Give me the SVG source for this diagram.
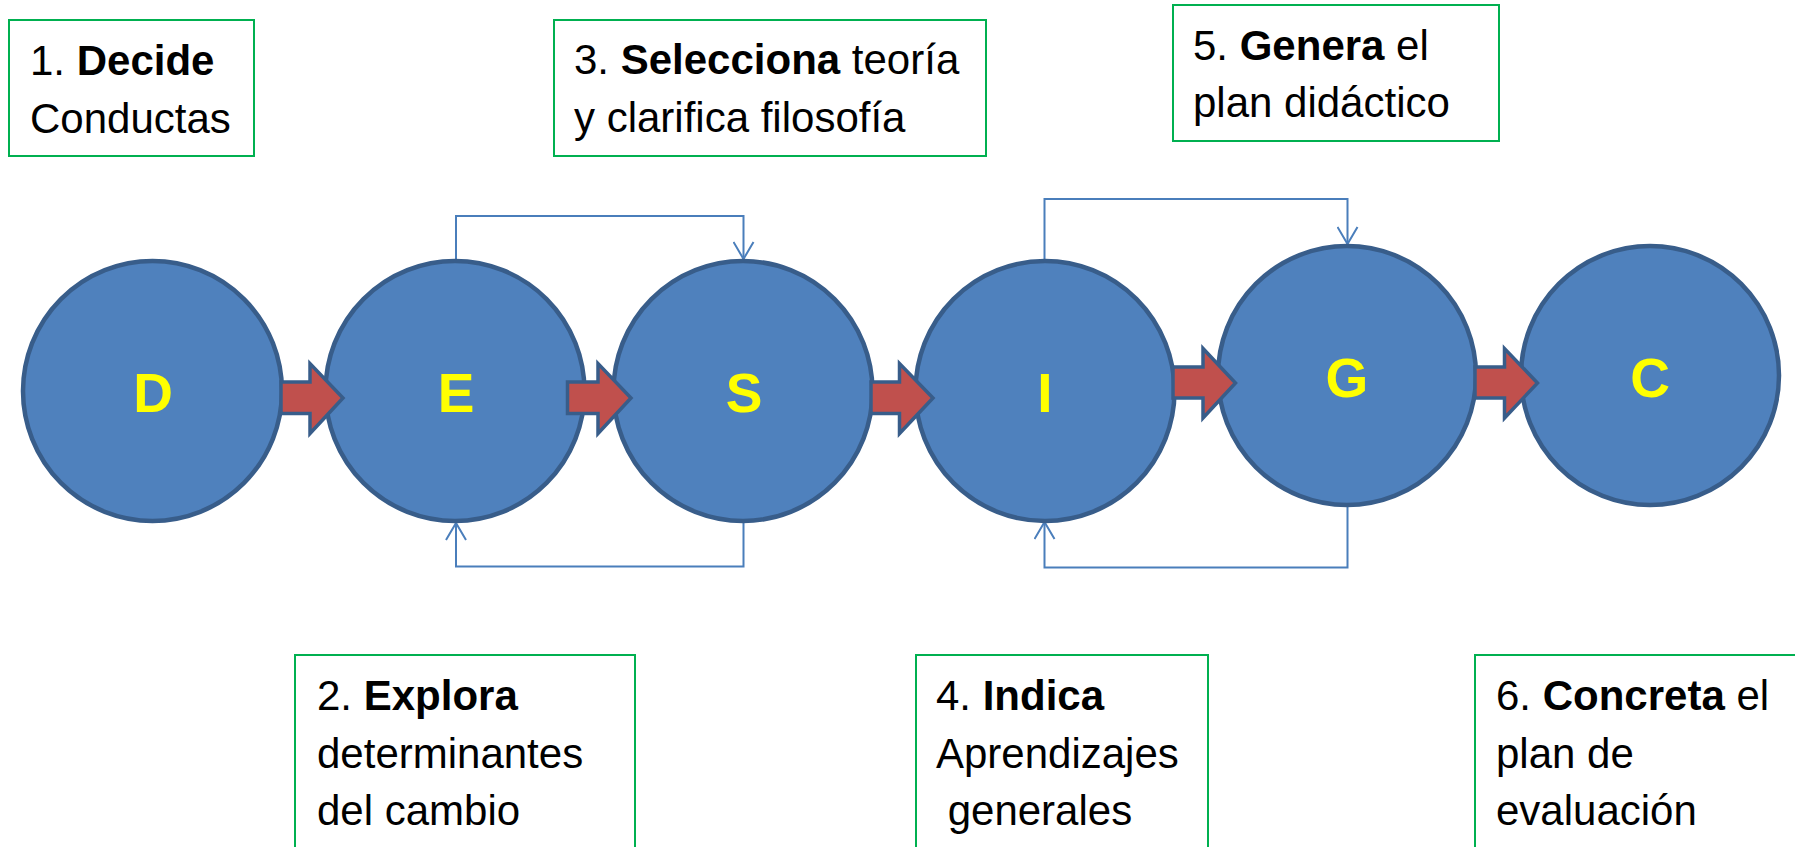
<svg xmlns="http://www.w3.org/2000/svg" width="1795" height="847" viewBox="0 0 1795 847">
<defs>
<style>
.box{fill:#fff;stroke:#00B050;stroke-width:2}
.lbl{font-family:"Liberation Sans",Arial,sans-serif;font-size:42px;fill:#000}
.b{font-weight:bold}
.node{fill:#4F81BD;stroke:#385D8A;stroke-width:4.5}
.letter{font-family:"Liberation Sans",Arial,sans-serif;font-size:55px;font-weight:bold;fill:#FFFF00;text-anchor:middle}
.blk{fill:#C0504D;stroke:#385D8A;stroke-width:3.5;stroke-linejoin:miter}
.conn{fill:none;stroke:#4A7EBB;stroke-width:2}
</style>
<marker id="open" markerWidth="20" markerHeight="22" refX="18" refY="11" orient="auto" markerUnits="userSpaceOnUse" viewBox="0 0 20 22">
<path d="M1,1 L18,11 L1,21" fill="none" stroke="#4A7EBB" stroke-width="2"/>
</marker>
</defs>

<g id="label1">
<rect class="box" x="9" y="20" width="245" height="136"/>
<text class="lbl" x="30" y="75">1. <tspan class="b">Decide</tspan></text>
<text class="lbl" x="30" y="133">Conductas</text>
</g>
<g id="label3">
<rect class="box" x="554" y="20" width="432" height="136"/>
<text class="lbl" x="574" y="74">3. <tspan class="b">Selecciona</tspan> teoría</text>
<text class="lbl" x="574" y="132">y clarifica filosofía</text>
</g>
<g id="label5">
<rect class="box" x="1173" y="5" width="326" height="136"/>
<text class="lbl" x="1193" y="60">5. <tspan class="b">Genera</tspan> el</text>
<text class="lbl" x="1193" y="117">plan didáctico</text>
</g>
<g id="label2">
<rect class="box" x="295" y="655" width="340" height="200"/>
<text class="lbl" x="317" y="710">2. <tspan class="b">Explora</tspan></text>
<text class="lbl" x="317" y="768">determinantes</text>
<text class="lbl" x="317" y="825">del cambio</text>
</g>
<g id="label4">
<rect class="box" x="916" y="655" width="292" height="200"/>
<text class="lbl" x="936" y="710">4. <tspan class="b">Indica</tspan></text>
<text class="lbl" x="936" y="768">Aprendizajes</text>
<text class="lbl" x="936" y="825" xml:space="preserve"> generales</text>
</g>
<g id="label6">
<rect class="box" x="1475" y="655" width="340" height="200"/>
<text class="lbl" x="1496" y="710">6. <tspan class="b">Concreta</tspan> el</text>
<text class="lbl" x="1496" y="768">plan de</text>
<text class="lbl" x="1496" y="825">evaluación</text>
</g>

<g id="connectors">
<path class="conn" d="M456,261 V216 H743.5 V259" marker-end="url(#open)"/>
<path class="conn" d="M743.5,521 V566.5 H456 V523" marker-end="url(#open)"/>
<path class="conn" d="M1044.5,261 V199 H1347.5 V244" marker-end="url(#open)"/>
<path class="conn" d="M1347.5,505 V567.5 H1044.5 V522" marker-end="url(#open)"/>
</g>

<g id="nodeD">
<ellipse class="node" cx="152.5" cy="391" rx="129.5" ry="130"/>
<text class="letter" x="153" y="412">D</text>
</g>
<g id="nodeE">
<ellipse class="node" cx="455" cy="391" rx="129.5" ry="130"/>
<text class="letter" x="456" y="412">E</text>
</g>
<g id="nodeS">
<ellipse class="node" cx="743" cy="391" rx="129.5" ry="130"/>
<text class="letter" x="744" y="412">S</text>
</g>
<g id="nodeI">
<ellipse class="node" cx="1045" cy="391" rx="129.5" ry="130"/>
<text class="letter" x="1045" y="412">I</text>
</g>
<g id="nodeG">
<ellipse class="node" cx="1347" cy="375.5" rx="129" ry="129.5"/>
<text class="letter" x="1347" y="397">G</text>
</g>
<g id="nodeC">
<ellipse class="node" cx="1650" cy="375.5" rx="129" ry="129.5"/>
<text class="letter" x="1650" y="397">C</text>
</g>

<g id="flow">
<path class="blk" d="M281,382 H310 V363.5 L343,398 L310,433.5 V413.5 H281 Z"/>
<path class="blk" d="M567.5,382 H598 V363.5 L631,398 L598,433.5 V413.5 H567.5 Z"/>
<path class="blk" d="M871,382 H899.5 V363.5 L933,398 L899.5,433.5 V413.5 H871 Z"/>
<path class="blk" d="M1173,367 H1203 V348.5 L1235.5,383 L1203,418 V398 H1173 Z"/>
<path class="blk" d="M1475,367 H1504.5 V348.5 L1537.5,383 L1504.5,418 V398 H1475 Z"/>
</g>
</svg>
